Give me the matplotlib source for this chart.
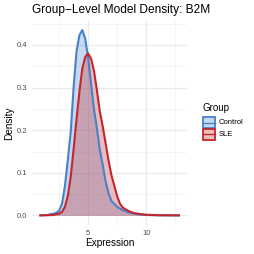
import numpy as np
import matplotlib
matplotlib.use("Agg")
import matplotlib.pyplot as plt
from matplotlib.patches import Rectangle
from matplotlib.lines import Line2D

plt.rcParams['font.family'] = ['Liberation Sans', 'DejaVu Sans']

# density curves (x = expression, y = density)
control_x = [0.8, 1.5, 1.8, 2.0, 2.25, 2.5, 2.75, 3.0, 3.25, 3.5, 3.75, 4.0, 4.25, 4.5,
             4.75, 5.0, 5.25, 5.5, 5.75, 6.0, 6.25, 6.5, 6.75, 7.0, 7.5, 8.0, 8.5,
             9.0, 9.5, 10.0, 11.0, 12.0, 12.9]
control_y = [0.0, 0.001, 0.003, 0.004, 0.006, 0.011, 0.027, 0.068, 0.13, 0.195, 0.30,
             0.385, 0.423, 0.435, 0.415, 0.37, 0.31, 0.25, 0.205, 0.155, 0.12, 0.08,
             0.053, 0.034, 0.02, 0.012, 0.007, 0.004, 0.002, 0.001, 0.0003, 0.0001, 0.0]

sle_x = [0.8, 1.5, 2.0, 2.5, 2.75, 3.0, 3.25, 3.5, 3.75, 4.0, 4.25, 4.5, 4.75, 5.0,
         5.25, 5.5, 5.75, 6.0, 6.25, 6.5, 6.75, 7.0, 7.25, 7.5, 7.75, 8.0, 8.5, 9.0,
         9.5, 10.0, 11.0, 12.0, 12.9]
sle_y = [0.0, 0.0005, 0.001, 0.004, 0.008, 0.02, 0.045, 0.09, 0.155, 0.225, 0.29,
         0.345, 0.372, 0.38, 0.368, 0.34, 0.295, 0.245, 0.21, 0.17, 0.13, 0.095, 0.07,
         0.045, 0.027, 0.018, 0.01, 0.005, 0.003, 0.0015, 0.0005, 0.0002, 0.0]

groups = ['Control', 'SLE']
line_colors = ['#4A80C8', '#C3272D']
curves = [(control_x, control_y), (sle_x, sle_y)]

W = H = 254
fig = plt.figure(figsize=(2.54, 2.54), dpi=100)
fig.patch.set_facecolor('white')

def fx(px):
    return px / W

def fy(py):
    return 1 - py / H

ax = fig.add_axes([fx(32), fy(224.7), fx(186.9) - fx(32), fy(20.7) - fy(224.7)])
ax.set_xlim(0.17, 13.5)
ax.set_ylim(-0.0218, 0.457)

# theme_minimal style grid
ax.set_xticks([5, 10])
ax.set_xticks([2.5, 7.5, 12.5], minor=True)
ax.set_yticks([0.0, 0.1, 0.2, 0.3, 0.4])
ax.set_yticks([0.05, 0.15, 0.25, 0.35, 0.45], minor=True)
ax.set_yticklabels(['0.0', '0.1', '0.2', '0.3', '0.4'])
ax.grid(True, which='major', color='#EBEBEB', lw=0.9)
ax.grid(True, which='minor', color='#F2F2F2', lw=0.6)
ax.set_axisbelow(True)
for s in ax.spines.values():
    s.set_visible(False)
ax.tick_params(which='both', length=0, labelsize=5.5, labelcolor='#4D4D4D', pad=3.5)

for (xs, ys), col in zip(curves, line_colors):
    ax.fill_between(xs, ys, 0, color=col, alpha=0.3, lw=0)
    ax.plot(xs, ys, color=col, lw=1.5, solid_capstyle='butt')

fig.text(fx(32), fy(10), 'Group\u2212Level Model Density: B2M', fontsize=8.6,
         ha='left', va='center')
fig.text(fx(110), fy(243), 'Expression', fontsize=7.2, ha='center', va='center')
fig.text(fx(9.5), fy(123), 'Density', fontsize=7.2, ha='center', va='center',
         rotation=90)

# legend
fig.text(fx(202.5), fy(108), 'Group', fontsize=7.0, ha='left', va='center')
key_tops = [117.5, 129.0]
for top, col, name in zip(key_tops, line_colors, groups):
    bw, bh = 12.0, 10.5
    fig.add_artist(Rectangle((fx(202.5), fy(top + bh)), fx(bw), bh / H,
                             transform=fig.transFigure, facecolor=col, alpha=0.3,
                             lw=0))
    fig.add_artist(Rectangle((fx(202.5), fy(top + bh)), fx(bw), bh / H,
                             transform=fig.transFigure, facecolor='none',
                             edgecolor=col, lw=1.3))
    mid = top + bh / 2
    fig.add_artist(Line2D([fx(202.5), fx(202.5 + bw)], [fy(mid), fy(mid)],
                          transform=fig.transFigure, color=col, lw=1.0))
    fig.text(fx(219), fy(mid), name, fontsize=5.5, ha='left', va='center')

fig.savefig('out.png', dpi=100, facecolor='white')
